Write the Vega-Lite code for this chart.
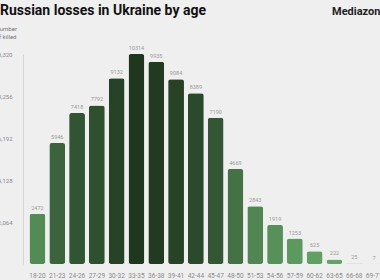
{
  "$schema": "https://vega.github.io/schema/vega-lite/v6.json",
  "autosize": {"type": "none"},
  "width": 357,
  "height": 210,
  "padding": {"left": 23, "top": 54, "right": 0, "bottom": 16},
  "background": "#efefef",
  "config": {"view": {"stroke": null}, "font": "Roboto"},
  "title": {
    "text": "Russian losses in Ukraine by age",
    "anchor": "start",
    "dx": 6,
    "dy": 16,
    "fontSize": 14,
    "fontWeight": "bold",
    "color": "#111111",
    "font": "Roboto"
  },
  "layer": [
    {
      "data": {"values": [
        {"age": "18-20", "killed": 2472},
        {"age": "21-23", "killed": 5946},
        {"age": "24-26", "killed": 7418},
        {"age": "27-29", "killed": 7792},
        {"age": "30-32", "killed": 9132},
        {"age": "33-35", "killed": 10314},
        {"age": "36-38", "killed": 9935},
        {"age": "39-41", "killed": 9084},
        {"age": "42-44", "killed": 8389},
        {"age": "45-47", "killed": 7190},
        {"age": "48-50", "killed": 4669},
        {"age": "51-53", "killed": 2843},
        {"age": "54-56", "killed": 1919},
        {"age": "57-59", "killed": 1253},
        {"age": "60-62", "killed": 625},
        {"age": "63-65", "killed": 222},
        {"age": "66-68", "killed": 25},
        {"age": "69-71", "killed": 7}
      ]},
      "encoding": {
        "x": {
          "field": "age", "type": "ordinal", "sort": null,
          "scale": {"paddingInner": 0.2, "paddingOuter": 0.33, "range": [0, 365.5]},
          "axis": {
            "title": null, "domain": false, "ticks": false, "labelAngle": 0,
            "labelFontSize": 6.5, "labelColor": "#8a8a8a", "labelPadding": 8,
            "labelFont": "Roboto"
          }
        },
        "y": {
          "field": "killed", "type": "quantitative",
          "scale": {"domain": [0, 10320], "nice": false},
          "axis": {
            "values": [2064, 4128, 6192, 8256, 10320],
            "format": ",.0f",
            "grid": false, "ticks": false,
            "domain": true, "domainColor": "#d4d4d4", "domainWidth": 1,
            "labelFontSize": 6, "labelColor": "#8a8a8a", "labelPadding": 11,
            "labelFont": "Roboto",
            "title": ["Number", "of killed"],
            "titleAngle": 0, "titleAlign": "left", "titleBaseline": "alphabetic",
            "titleX": -28, "titleY": -24,
            "titleFontSize": 6, "titleFontWeight": "normal", "titleColor": "#777777",
            "titleLineHeight": 8, "titleFont": "Roboto"
          }
        }
      },
      "layer": [
        {
          "mark": {"type": "bar", "cornerRadius": 2.5},
          "encoding": {
            "color": {
              "field": "killed", "type": "quantitative",
              "scale": {"domain": [0, 10314], "range": ["#65a868", "#1f361f"]},
              "legend": null
            }
          }
        },
        {
          "mark": {"type": "text", "dy": -6, "fontSize": 5.5, "color": "#999999", "font": "Roboto"},
          "encoding": {"text": {"field": "killed", "type": "quantitative", "format": "d"}}
        }
      ]
    },
    {
      "data": {"values": [{"brand": "Mediazona"}]},
      "mark": {"type": "text", "align": "left", "baseline": "alphabetic", "fontSize": 11, "fontWeight": "bold", "color": "#222222", "font": "Roboto"},
      "encoding": {
        "text": {"field": "brand"},
        "x": {"value": 309},
        "y": {"value": -39}
      }
    }
  ]
}
